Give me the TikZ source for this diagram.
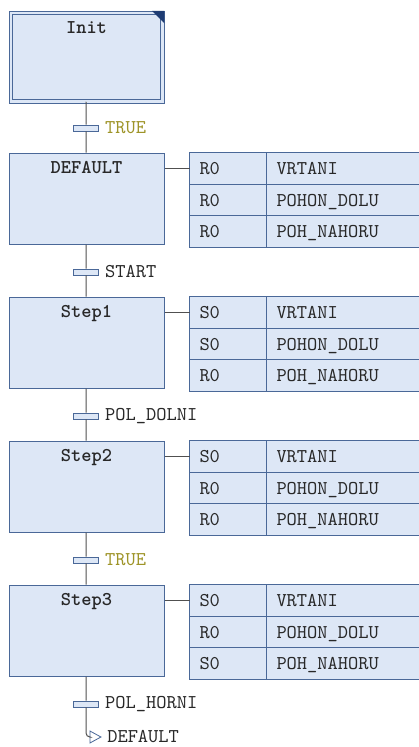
\documentclass[tikz,border=0pt]{standalone}
\usepackage{fontspec}
\setmonofont{lmmono10-regular.otf}[BoldFont = lmmonolt10-bold.otf]
\usetikzlibrary{positioning, shapes.geometric}

\definecolor{stepfill}{RGB}{221,231,246}
\definecolor{stepdraw}{RGB}{74,104,152}
\definecolor{linkgray}{RGB}{80,80,80}
\definecolor{textgray}{RGB}{40,40,40}
\definecolor{constolive}{RGB}{158,148,40}
\definecolor{initmark}{RGB}{30,60,115}

\begin{document}
\begin{tikzpicture}[
            x = 1pt, y = -1pt, % pixel units, y runs downwards
            font = \ttfamily\fontsize{19.5}{22}\selectfont,
            text = textgray,
            link/.style = {draw = linkgray, line width = 1pt}, % connector lines
            semithick
        ]

        \tikzstyle{stepbox}=[
            draw = stepdraw,
            line width = 1pt,
            fill = stepfill,
            anchor = north west,
            minimum width = 155pt,
            inner ysep = 4pt,
            text height = 16.5pt,
            text depth = 66.5pt,
            font = \ttfamily\bfseries\fontsize{19.5}{22}\selectfont
        ]
        \tikzstyle{trbar}=[
            draw = stepdraw,
            fill = stepfill,
            line width = 0.8pt,
            minimum width = 25pt,
            minimum height = 6pt,
            inner sep = 0pt
        ]
        \tikzstyle{trtext}=[inner sep = 0pt, right = 6pt]
        \tikzstyle{cell}=[
            draw = stepdraw,
            fill = stepfill,
            line width = 1pt,
            outer sep = 0pt,
            inner ysep = 0pt,
            inner xsep = 10pt,
            align = left,
            text height = 12pt,
            text depth = 0pt,
            minimum height = 31.67pt
        ]
        \tikzstyle{qualcell}=[cell, text width = 57pt]
        \tikzstyle{actcell}=[cell, text width = 135pt]

        \useasboundingbox (0,0) rectangle (419,747);

        % steps
        \node[stepbox, double = stepfill, double distance = 2.5pt,
              text depth = 64pt, minimum width = 151.5pt] (init) at (10.25,12.25) {Init};
        \fill[initmark] ([xshift=-11pt,yshift=1.5pt]init.north east) -- ([xshift=1.5pt,yshift=1.5pt]init.north east)
            -- ([xshift=1.5pt,yshift=-11pt]init.north east) -- cycle;
        \node[stepbox] (dflt) at (8.5,152.5) {DEFAULT};
        \node[stepbox] (step1) at (8.5,296.5) {Step1};
        \node[stepbox] (step2) at (8.5,440.5) {Step2};
        \node[stepbox] (step3) at (8.5,584.5) {Step3};

        % transitions
        \node[trbar] (t0) at (86,128) {};
        \node[trtext, right = 6pt of t0, text = constolive] (t0c) {TRUE};
        \node[trbar] (t1) at (86,272) {};
        \node[trtext, right = 6pt of t1] (t1c) {START};
        \node[trbar] (t2) at (86,416) {};
        \node[trtext, right = 6pt of t2] (t2c) {POL\_DOLNI};
        \node[trbar] (t3) at (86,560) {};
        \node[trtext, right = 6pt of t3, text = constolive] (t3c) {TRUE};
        \node[trbar] (t4) at (86,704) {};
        \node[trtext, right = 6pt of t4] (t4c) {POL\_HORNI};

        % jump back
        \node[isosceles triangle, isosceles triangle stretches, draw = stepdraw, fill = white,
              line width = 0.8pt, minimum height = 11pt, minimum width = 12pt,
              inner sep = 0pt] (jmp) at (93.5,737) {};
        \node[trtext, right = 5pt of jmp] (jmpc) {DEFAULT};

        % actions of DEFAULT
        \node[qualcell, anchor = north west] (d-q1) at (189.5,152.5) {R0};
        \node[actcell, right = 0pt of d-q1] (d-a1) {VRTANI};
        \node[qualcell, below = 0pt of d-q1] (d-q2) {R0};
        \node[actcell, right = 0pt of d-q2] (d-a2) {POHON\_DOLU};
        \node[qualcell, below = 0pt of d-q2] (d-q3) {R0};
        \node[actcell, right = 0pt of d-q3] (d-a3) {POH\_NAHORU};

        % actions of Step1
        \node[qualcell, anchor = north west] (s1-q1) at (189.5,296.5) {S0};
        \node[actcell, right = 0pt of s1-q1] (s1-a1) {VRTANI};
        \node[qualcell, below = 0pt of s1-q1] (s1-q2) {S0};
        \node[actcell, right = 0pt of s1-q2] (s1-a2) {POHON\_DOLU};
        \node[qualcell, below = 0pt of s1-q2] (s1-q3) {R0};
        \node[actcell, right = 0pt of s1-q3] (s1-a3) {POH\_NAHORU};

        % actions of Step2
        \node[qualcell, anchor = north west] (s2-q1) at (189.5,440.5) {S0};
        \node[actcell, right = 0pt of s2-q1] (s2-a1) {VRTANI};
        \node[qualcell, below = 0pt of s2-q1] (s2-q2) {R0};
        \node[actcell, right = 0pt of s2-q2] (s2-a2) {POHON\_DOLU};
        \node[qualcell, below = 0pt of s2-q2] (s2-q3) {R0};
        \node[actcell, right = 0pt of s2-q3] (s2-a3) {POH\_NAHORU};

        % actions of Step3
        \node[qualcell, anchor = north west] (s3-q1) at (189.5,584.5) {S0};
        \node[actcell, right = 0pt of s3-q1] (s3-a1) {VRTANI};
        \node[qualcell, below = 0pt of s3-q1] (s3-q2) {R0};
        \node[actcell, right = 0pt of s3-q2] (s3-a2) {POHON\_DOLU};
        \node[qualcell, below = 0pt of s3-q2] (s3-q3) {S0};
        \node[actcell, right = 0pt of s3-q3] (s3-a3) {POH\_NAHORU};

        % sequence
        \draw[link] (init) -- (t0) -- (dflt) -- (t1) -- (step1) -- (t2) -- (step2)
            -- (t3) -- (step3) -- (t4);
        \draw[link, rounded corners = 4pt] (t4) |- (jmp);

        % step to action block
        \draw[link] (d-q1.west -| dflt.east) -- (d-q1.west);
        \draw[link] (s1-q1.west -| step1.east) -- (s1-q1.west);
        \draw[link] (s2-q1.west -| step2.east) -- (s2-q1.west);
        \draw[link] (s3-q1.west -| step3.east) -- (s3-q1.west);

  \end{tikzpicture}
\end{document}
